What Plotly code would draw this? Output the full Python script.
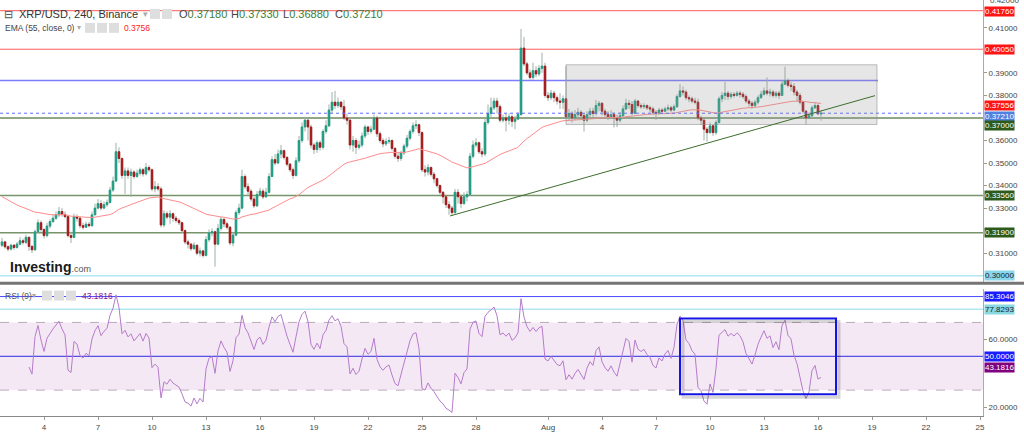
import plotly.graph_objects as go
from datetime import datetime, timedelta

# ---------------- data (prices in units of 0.0001 USD) ----------------
START = datetime(2022, 7, 1, 16, 0)
BAR_HOURS = 4
PRICE_UNIT = 0.0001
FIRST_OPEN = 3135

CLOSES = [
    3150, 3128, 3118, 3135, 3125, 3140, 3155, 3148, 3170, 3130,
    3115, 3195, 3235, 3205, 3178, 3220, 3240, 3255, 3270, 3285,
    3272, 3262, 3178, 3170, 3262, 3255, 3222, 3215, 3228, 3222,
    3270, 3300, 3320, 3300, 3315, 3325, 3380, 3420, 3550, 3520,
    3445, 3465, 3445, 3460, 3440, 3455, 3470, 3452, 3480, 3470,
    3385, 3395, 3385, 3225, 3275, 3260, 3275, 3255, 3245, 3235,
    3200, 3150, 3140, 3120, 3135, 3100, 3110, 3090, 3160, 3190,
    3195, 3140, 3210, 3250, 3230, 3215, 3145, 3180, 3280, 3300,
    3440, 3395, 3375, 3340, 3310, 3360, 3375, 3350, 3370, 3440,
    3515, 3500, 3540, 3555, 3525, 3495, 3470, 3445, 3510, 3600,
    3660, 3690, 3660, 3580, 3560, 3590, 3570, 3640, 3665, 3735,
    3770, 3755, 3770, 3750, 3700, 3690, 3580, 3600, 3570, 3580,
    3620, 3660, 3640, 3650, 3700, 3630, 3600, 3585, 3595, 3600,
    3565, 3530, 3520, 3545, 3575, 3610, 3640, 3665, 3670, 3635,
    3470, 3460, 3480, 3450, 3430, 3400, 3370, 3350, 3315, 3300,
    3280, 3370, 3350, 3320, 3350, 3360, 3530, 3580, 3590, 3550,
    3540, 3680, 3720, 3745, 3775, 3750, 3690, 3700, 3690, 3705,
    3685, 3695, 3715, 4010, 3940, 3900, 3880, 3910, 3895, 3920,
    3930, 3800, 3790, 3810, 3790, 3775, 3770, 3785, 3705, 3720,
    3700, 3715, 3725, 3710, 3690, 3715, 3730, 3720, 3755, 3765,
    3730, 3715, 3705, 3715, 3700, 3690, 3710, 3740, 3765, 3760,
    3720, 3775, 3755, 3750, 3755, 3745, 3740, 3725, 3720, 3735,
    3730, 3740, 3745, 3735, 3750, 3795, 3820, 3815, 3790, 3785,
    3775, 3770, 3700, 3690, 3650, 3635, 3665, 3635, 3680, 3785,
    3800, 3810, 3795, 3805, 3800, 3810, 3805, 3795, 3775, 3765,
    3755, 3770, 3790, 3805, 3820, 3810, 3815, 3800, 3810, 3800,
    3850, 3865, 3845, 3840, 3815, 3800, 3770, 3730, 3700, 3710,
    3745, 3755, 3718, 3721,
]
HIGHS = [
    3168, 3155, 3135, 3142, 3140, 3150, 3172, 3165, 3182, 3175,
    3135, 3205, 3250, 3245, 3210, 3235, 3250, 3270, 3285, 3305,
    3300, 3285, 3268, 3195, 3275, 3272, 3262, 3235, 3240, 3238,
    3285, 3320, 3340, 3335, 3330, 3338, 3395, 3440, 3590, 3570,
    3525, 3480, 3480, 3475, 3468, 3470, 3480, 3478, 3500, 3490,
    3475, 3420, 3410, 3395, 3290, 3285, 3290, 3280, 3265, 3255,
    3240, 3205, 3160, 3145, 3148, 3138, 3125, 3115, 3175, 3205,
    3210, 3200, 3230, 3262, 3255, 3240, 3220, 3195, 3290, 3320,
    3470, 3450, 3410, 3385, 3350, 3375, 3390, 3385, 3390, 3455,
    3530, 3540, 3560, 3580, 3560, 3530, 3500, 3480, 3525, 3620,
    3680, 3705, 3695, 3670, 3590, 3600, 3600, 3650, 3690, 3760,
    3815, 3820, 3790, 3775, 3780, 3720, 3695, 3620, 3610, 3600,
    3635, 3670, 3665, 3665, 3715, 3710, 3640, 3610, 3610, 3615,
    3605, 3570, 3545, 3555, 3585, 3625, 3650, 3680, 3690, 3675,
    3640, 3490, 3495, 3485, 3460, 3435, 3405, 3375, 3355, 3330,
    3310, 3385, 3385, 3360, 3370, 3375, 3545, 3600, 3610, 3595,
    3565, 3700, 3760, 3790, 3790, 3790, 3760, 3715, 3720, 3720,
    3715, 3710, 3725, 4095, 4060, 3950, 3915, 3945, 3930, 3935,
    3990, 3945, 3815, 3825, 3820, 3800, 3810, 3800, 3930, 3740,
    3730, 3735, 3745, 3735, 3720, 3730, 3745, 3745, 3780, 3775,
    3770, 3740, 3730, 3735, 3725, 3715, 3725, 3755, 3785, 3780,
    3775, 3785, 3780, 3765, 3765, 3760, 3755, 3750, 3735, 3745,
    3745, 3750, 3760, 3755, 3760, 3805, 3850, 3840, 3825, 3800,
    3795, 3790, 3785, 3710, 3700, 3660, 3680, 3670, 3690, 3795,
    3815, 3860, 3820, 3815, 3815, 3820, 3820, 3815, 3805, 3785,
    3775, 3780, 3800, 3820, 3835, 3880, 3830, 3825, 3820, 3820,
    3865, 3928, 3875, 3860, 3855, 3825, 3810, 3775, 3735, 3725,
    3755, 3770, 3765, 3733,
]
LOWS = [
    3128, 3120, 3108, 3112, 3115, 3120, 3135, 3138, 3140, 3110,
    3100, 3110, 3190, 3195, 3165, 3170, 3210, 3235, 3248, 3260,
    3262, 3255, 3170, 3145, 3168, 3240, 3210, 3205, 3212, 3215,
    3218, 3270, 3295, 3290, 3295, 3305, 3320, 3372, 3415, 3500,
    3430, 3362, 3430, 3350, 3430, 3435, 3445, 3440, 3445, 3460,
    3375, 3370, 3375, 3215, 3215, 3250, 3230, 3240, 3235, 3225,
    3190, 3140, 3120, 3110, 3115, 3090, 3085, 3080, 3085, 3150,
    3175, 3040, 3135, 3200, 3215, 3205, 3135, 3130, 3175, 3270,
    3295, 3385, 3355, 3330, 3300, 3305, 3355, 3340, 3345, 3365,
    3440, 3490, 3495, 3520, 3515, 3485, 3460, 3430, 3440, 3500,
    3590, 3640, 3600, 3565, 3540, 3545, 3555, 3560, 3630, 3660,
    3720, 3740, 3745, 3735, 3690, 3670, 3560, 3550, 3540, 3560,
    3570, 3610, 3625, 3630, 3645, 3615, 3590, 3570, 3575, 3585,
    3555, 3520, 3505, 3510, 3535, 3565, 3600, 3630, 3650, 3620,
    3460, 3440, 3445, 3440, 3410, 3390, 3360, 3320, 3300, 3270,
    3265, 3275, 3320, 3300, 3315, 3330, 3355, 3520, 3570, 3540,
    3525, 3530, 3670, 3700, 3735, 3720, 3680, 3680, 3640, 3670,
    3660, 3650, 3690, 3710, 3930, 3890, 3870, 3870, 3880, 3885,
    3900, 3790, 3775, 3780, 3770, 3760, 3740, 3740, 3695, 3690,
    3680, 3690, 3700, 3700, 3640, 3680, 3700, 3705, 3710, 3730,
    3710, 3700, 3690, 3695, 3658, 3660, 3680, 3700, 3735, 3740,
    3710, 3720, 3745, 3740, 3740, 3735, 3725, 3715, 3690, 3715,
    3720, 3725, 3730, 3725, 3730, 3745, 3790, 3800, 3780, 3770,
    3765, 3760, 3690, 3670, 3600, 3595, 3630, 3620, 3625, 3675,
    3770, 3780, 3780, 3785, 3790, 3795, 3790, 3785, 3765, 3750,
    3740, 3745, 3760, 3785, 3800, 3800, 3795, 3790, 3790, 3785,
    3800, 3845, 3835, 3820, 3800, 3770, 3760, 3720, 3671, 3695,
    3700, 3740, 3715, 3688,
]

EMA_LEN = 55
EMA_SEED = 0.3358          # EMA value at the left edge
RSI_LEN = 9

HEADER_TITLE = "XRP/USD, 240, Binance"
HEADER_OHLC = [("O", "0.37180"), ("H", "0.37330"), ("L", "0.36880"), ("C", "0.37210")]
EMA_TITLE = "EMA (55, close, 0)"
EMA_LAST = 0.37556
RSI_TITLE = "RSI (9)"
RSI_LAST = 43.1816

RES_LEVELS = [0.41760, 0.40050]
BLUE_LEVEL = 0.3866
LAST_PRICE = 0.37210
SUP_LEVELS = [0.37000, 0.33560, 0.31900]
BASE_LEVEL = 0.30000
RSI_HI = 85.3046
RSI_CYAN = 77.8293
RSI_MID = 50.0
RSI_BAND = (30, 70)

BOX_T = (datetime(2022, 8, 2, 0, 0), datetime(2022, 8, 19, 6, 40))
BOX_P = (0.3671, 0.3936)
TREND_T = (datetime(2022, 7, 26, 13, 20), datetime(2022, 8, 19, 4, 0))
TREND_P = (0.3265, 0.3799)
BLUE_END = datetime(2022, 8, 19, 8, 0)
RSI_BOX_T = (datetime(2022, 8, 8, 8, 0), datetime(2022, 8, 17, 0, 0))
RSI_BOX_V = (27.6, 72.4)

PRICE_TICKS = [0.31, 0.33, 0.34, 0.35, 0.36, 0.38, 0.39, 0.41]
TOP_TICK_TEXT = "0.42000"          # partly clipped tick label at the very top
RSI_TICKS = [20, 60]
X_TICKS = [datetime(2022, 7, d) for d in (4, 7, 10, 13, 16, 19, 22, 25, 28)] + \
          [datetime(2022, 8, d) for d in (1, 4, 7, 10, 13, 16, 19, 22, 25)]
X_TICK_TEXT = ["4", "7", "10", "13", "16", "19", "22", "25", "28",
               "Aug", "4", "7", "10", "13", "16", "19", "22", "25"]
X_RANGE = [datetime(2022, 7, 1, 13, 20), datetime(2022, 8, 25, 4, 0)]
PRICE_RANGE = [0.29647, 0.42235]
RSI_RANGE = [14.7, 90.0]

# ---------------- derived series ----------------
n = len(CLOSES)
times = [START + timedelta(hours=BAR_HOURS * i) for i in range(n)]
closes = [v * PRICE_UNIT for v in CLOSES]
highs = [v * PRICE_UNIT for v in HIGHS]
lows = [v * PRICE_UNIT for v in LOWS]
opens = [FIRST_OPEN * PRICE_UNIT] + closes[:-1]
body_hi = [max(o, c) for o, c in zip(opens, closes)]
body_lo = [min(o, c) for o, c in zip(opens, closes)]

alpha = 2.0 / (EMA_LEN + 1)
ema, e = [], EMA_SEED
for c in closes:
    e = e + alpha * (c - e)
    ema.append(e)

diffs = [closes[i] - closes[i - 1] for i in range(1, n)]
gains = [max(d, 0) for d in diffs]
losses = [max(-d, 0) for d in diffs]
ag = sum(gains[:RSI_LEN]) / RSI_LEN
al = sum(losses[:RSI_LEN]) / RSI_LEN
rsi = [100 - 100 / (1 + ag / al) if al > 0 else 100]
for g, l in zip(gains[RSI_LEN:], losses[RSI_LEN:]):
    ag = (ag * (RSI_LEN - 1) + g) / RSI_LEN
    al = (al * (RSI_LEN - 1) + l) / RSI_LEN
    rsi.append(100 - 100 / (1 + ag / al) if al > 0 else 100)
rsi_x = times[RSI_LEN:]

# ---------------- styling ----------------
PLOT_W, PLOT_H = 983, 418
UP, DOWN, WICK = "#1e9e86", "#a8171a", "#9fb0a6"
FONT = "Arial, Liberation Sans, sans-serif"


def fx(x):
    return x / PLOT_W


def fy(y):
    return 1 - y / PLOT_H


fig = go.Figure()
fig.add_trace(go.Candlestick(
    x=times, open=opens, high=highs, low=lows, close=closes,
    increasing=dict(line=dict(color=WICK, width=1), fillcolor=UP),
    decreasing=dict(line=dict(color=WICK, width=1), fillcolor=DOWN),
    whiskerwidth=0, hoverinfo="skip", showlegend=False, xaxis="x", yaxis="y"))
fig.add_trace(go.Candlestick(
    x=times, open=opens, high=body_hi, low=body_lo, close=closes,
    increasing=dict(line=dict(color=UP, width=1), fillcolor=UP),
    decreasing=dict(line=dict(color=DOWN, width=1), fillcolor=DOWN),
    whiskerwidth=0, hoverinfo="skip", showlegend=False, xaxis="x", yaxis="y"))
fig.add_trace(go.Scatter(x=times, y=ema, mode="lines", line=dict(color="#ff8c8c", width=1),
                         hoverinfo="skip", showlegend=False, xaxis="x", yaxis="y"))
fig.add_trace(go.Scatter(x=rsi_x, y=rsi, mode="lines", line=dict(color="#b47bcb", width=1),
                         hoverinfo="skip", showlegend=False, xaxis="x", yaxis="y2"))

shapes = []


def hline(y, color, width=1, dash="solid", yref="y", x0=None, x1=None, layer="below"):
    if x0 is None:
        shapes.append(dict(type="line", xref="paper", yref=yref, x0=0, x1=1, y0=y, y1=y,
                           line=dict(color=color, width=width, dash=dash), layer=layer))
    else:
        shapes.append(dict(type="line", xref="x", yref=yref, x0=x0, x1=x1, y0=y, y1=y,
                           line=dict(color=color, width=width, dash=dash), layer=layer))


# RSI band
shapes.append(dict(type="rect", xref="paper", yref="y2", x0=0, x1=1, y0=RSI_BAND[0], y1=RSI_BAND[1],
                   fillcolor="#f5e8f5", line=dict(width=0), layer="below"))
hline(RSI_BAND[1], "#bba9bb", 1, "dash", "y2")
hline(RSI_BAND[0], "#bba9bb", 1, "dash", "y2")
hline(RSI_HI, "#4a4aff", 1, yref="y2")
hline(RSI_CYAN, "#8fdcea", 1, yref="y2")
hline(RSI_MID, "#2a2ae0", 1, yref="y2")

# price levels
for lv in RES_LEVELS:
    hline(lv, "#ff5a5a", 1)
hline(BLUE_LEVEL, "#7c7cff", 1.5, x0=X_RANGE[0], x1=BLUE_END)
hline(SUP_LEVELS[0], "#93a686", 2)
for lv in SUP_LEVELS[1:]:
    hline(lv, "#78946a", 1.5)
hline(BASE_LEVEL, "#b3e6f2", 1.5)
hline(LAST_PRICE, "#5d6dff", 1, "dot", layer="above")

# analysis drawings
shapes.append(dict(type="rect", xref="x", yref="y", x0=BOX_T[0], x1=BOX_T[1], y0=BOX_P[0], y1=BOX_P[1],
                   fillcolor="rgba(150,150,150,0.24)", line=dict(color="rgba(140,140,140,0.55)", width=1),
                   layer="above"))
shapes.append(dict(type="line", xref="x", yref="y", x0=TREND_T[0], x1=TREND_T[1], y0=TREND_P[0], y1=TREND_P[1],
                   line=dict(color="#3d6e2e", width=1), layer="above"))
# RSI box with shadow
shapes.append(dict(type="rect", xref="x", yref="y2",
                   x0=RSI_BOX_T[0] + timedelta(hours=4), x1=RSI_BOX_T[1] + timedelta(hours=4),
                   y0=RSI_BOX_V[0] - 1.8, y1=RSI_BOX_V[1] - 1.8,
                   line=dict(color="rgba(0,0,0,0.16)", width=3), layer="above"))
shapes.append(dict(type="rect", xref="x", yref="y2", x0=RSI_BOX_T[0], x1=RSI_BOX_T[1],
                   y0=RSI_BOX_V[0], y1=RSI_BOX_V[1], line=dict(color="#1414e6", width=2), layer="above"))

# pane separator
shapes.append(dict(type="line", xref="paper", yref="paper", x0=0, x1=1024 / PLOT_W, y0=fy(284.5), y1=fy(284.5),
                   line=dict(color="#757575", width=3), layer="above"))

# header icons
for (x0, y0) in [(150, 9), (162, 9), (85, 23), (97, 23), (109, 23), (42, 292), (54, 292), (66, 292)]:
    shapes.append(dict(type="rect", xref="paper", yref="paper", x0=fx(x0), x1=fx(x0 + 10),
                       y0=fy(y0 + 10), y1=fy(y0), fillcolor="#dedede", line=dict(width=0), layer="above"))

annotations = []


def txt(x, y, s, size, color, anchor="left"):
    annotations.append(dict(xref="paper", yref="paper", x=fx(x), y=fy(y), text=s, showarrow=False,
                            xanchor=anchor, yanchor="middle",
                            font=dict(family=FONT, size=size, color=color)))


def lab(value, yref, s, bg, fg, yshift=0):
    annotations.append(dict(xref="paper", yref=yref, x=1, y=value, text=s, showarrow=False,
                            xanchor="left", yanchor="middle", xshift=1, yshift=yshift,
                            bgcolor=bg, borderpad=0,
                            font=dict(family=FONT, size=8, color=fg)))


txt(2, 14, "⊟", 11, "#555")
txt(17, 14, HEADER_TITLE, 11, "#333")
txt(141, 14, "▾", 9, "#aaa")
ohlc_x = [177, 229, 281, 333]
for (k, v), xx in zip(HEADER_OHLC, ohlc_x):
    txt(xx, 14, f"{k}<span style='color:#3b7e3b'>{v}</span>", 11, "#444")
txt(3, 28, EMA_TITLE, 8.5, "#444")
txt(75, 28, "▾", 8, "#aaa")
txt(122, 28, f"{EMA_LAST:.4f}", 8.5, "#ff2020")
txt(3, 297, RSI_TITLE, 8.5, "#555")
txt(30, 297, "▾", 8, "#aaa")
txt(80, 297, f"{RSI_LAST:.4f}", 8.5, "#8a1a8a")
txt(8, 268, "<b>Investing</b><span style='font-size:9px;color:#555'>.com</span>", 14, "#1a1a1a")
# clipped top tick label
annotations.append(dict(xref="paper", yref="paper", x=1, y=fy(0), text=TOP_TICK_TEXT, showarrow=False,
                        xanchor="left", yanchor="middle", xshift=5,
                        font=dict(family=FONT, size=8, color="#444")))

# right-side value labels
lab(RES_LEVELS[0], "y", f"{RES_LEVELS[0]:.5f}", "#ff1414", "white", yshift=-1)
lab(RES_LEVELS[1], "y", f"{RES_LEVELS[1]:.5f}", "#ff1414", "white")
lab(EMA_LAST, "y", f"{EMA_LAST:.5f}", "#ff1414", "white")
lab(LAST_PRICE, "y", f"{LAST_PRICE:.5f}", "#5080e0", "white", yshift=-3)
lab(SUP_LEVELS[0], "y", f"{SUP_LEVELS[0]:.5f}", "#2b5a1a", "white", yshift=-8)
lab(SUP_LEVELS[1], "y", f"{SUP_LEVELS[1]:.5f}", "#2b5a1a", "white")
lab(SUP_LEVELS[2], "y", f"{SUP_LEVELS[2]:.5f}", "#2b5a1a", "white")
lab(BASE_LEVEL, "y", f"{BASE_LEVEL:.5f}", "#8ad6ea", "#123")
lab(RSI_HI, "y2", f"{RSI_HI:.4f}", "#1a1aff", "white")
lab(RSI_CYAN, "y2", f"{RSI_CYAN:.4f}", "#88d8e4", "#123")
lab(RSI_MID, "y2", f"{RSI_MID:.4f}", "#1a1aff", "white")
lab(RSI_LAST, "y2", f"{RSI_LAST:.4f}", "#800080", "white")

axis_common = dict(side="right", anchor="x", ticks="outside", ticklen=3, tickcolor="#999",
                   showline=True, linecolor="#aaa", linewidth=1, showgrid=False, zeroline=False,
                   tickfont=dict(family=FONT, size=8, color="#444"), fixedrange=True)

fig.update_layout(
    width=1024, height=432,
    margin=dict(l=0, r=41, t=0, b=14),
    paper_bgcolor="white", plot_bgcolor="white",
    showlegend=False,
    font=dict(family=FONT, size=8, color="#444"),
    xaxis=dict(type="date", range=X_RANGE, anchor="y2", rangeslider=dict(visible=False),
               tickvals=X_TICKS, ticktext=X_TICK_TEXT, ticks="outside", ticklen=3, tickcolor="#999",
               showline=True, linecolor="#888", linewidth=1, showgrid=False, zeroline=False,
               tickfont=dict(family=FONT, size=8, color="#444")),
    yaxis=dict(domain=[1 - 285 / PLOT_H, 1], range=PRICE_RANGE, tickvals=PRICE_TICKS,
               tickformat=".5f", **axis_common),
    yaxis2=dict(domain=[0, 128 / PLOT_H], range=RSI_RANGE, tickvals=RSI_TICKS,
                tickformat=".4f", **axis_common),
    shapes=shapes,
    annotations=annotations,
)

fig.write_html("out.html")
